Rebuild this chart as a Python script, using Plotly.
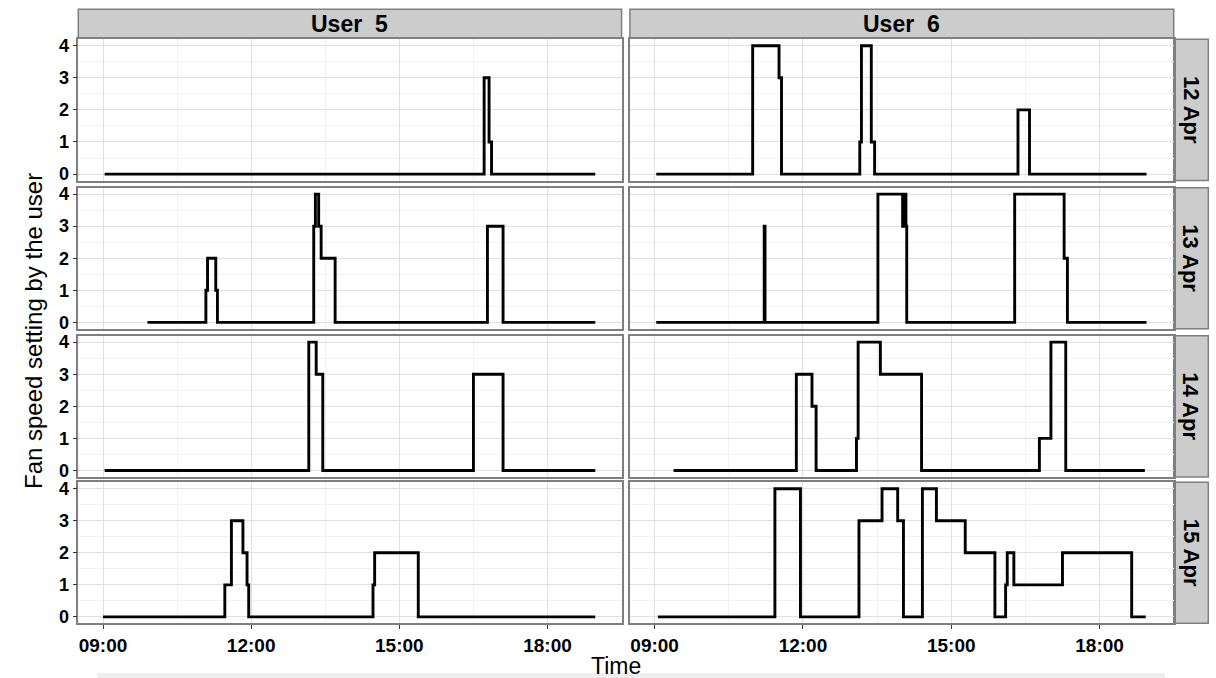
import plotly.graph_objects as go

# ---------------- data ----------------
BASE = "2014-01-01"
users = ["User  5", "User  6"]
days = ["12 Apr", "13 Apr", "14 Apr", "15 Apr"]
x_tick_labels = ["09:00", "12:00", "15:00", "18:00"]
x_minor = ["10:30", "13:30", "16:30"]
y_tick_vals = [0, 1, 2, 3, 4]
y_tick_labels = ["0", "1", "2", "3", "4"]

# User 5
u5_12_t = ["09:02", "16:43", "16:49", "16:52", "18:58"]
u5_12_v = [0, 3, 1, 0, 0]
u5_13_t = ["09:54", "11:05", "11:07", "11:17", "11:19", "13:16", "13:18", "13:22", "13:25", "13:42", "16:47", "17:06", "18:58"]
u5_13_v = [0, 1, 2, 1, 0, 3, 4, 3, 2, 0, 3, 0, 0]
u5_14_t = ["09:02", "13:10", "13:19", "13:27", "16:30", "17:06", "18:58"]
u5_14_v = [0, 4, 3, 0, 3, 0, 0]
u5_15_t = ["09:00", "11:28", "11:36", "11:50", "11:55", "11:57", "14:28", "14:30", "15:23", "18:58"]
u5_15_v = [0, 1, 3, 2, 1, 0, 1, 2, 0, 0]

# User 6
u6_12_t = ["09:02", "10:59", "11:31", "11:34", "13:09", "13:11", "13:23", "13:27", "16:21", "16:35", "18:57"]
u6_12_v = [0, 4, 3, 0, 1, 4, 1, 0, 2, 0, 0]
u6_13_t = ["09:02", "11:13", "11:14", "13:31", "14:01", "14:02", "14:03", "14:04", "14:05", "14:06", "16:17", "17:17", "17:21", "18:57"]
u6_13_v = [0, 3, 0, 4, 3, 4, 3, 4, 3, 0, 4, 2, 0, 0]
u6_14_t = ["09:23", "11:52", "12:11", "12:16", "13:05", "13:07", "13:34", "14:24", "16:47", "17:01", "17:19", "18:55"]
u6_14_v = [0, 3, 2, 0, 1, 4, 3, 0, 1, 4, 0, 0]
u6_15_t = ["09:04", "11:26", "11:57", "13:08", "13:36", "13:55", "14:02", "14:25", "14:42", "15:17", "15:53", "16:06", "16:08", "16:16", "17:15", "18:39", "18:56"]
u6_15_v = [0, 4, 0, 3, 4, 3, 0, 4, 3, 2, 0, 1, 2, 1, 2, 0, 0]

series = [
    [(u5_12_t, u5_12_v), (u6_12_t, u6_12_v)],
    [(u5_13_t, u5_13_v), (u6_13_t, u6_13_v)],
    [(u5_14_t, u5_14_v), (u6_14_t, u6_14_v)],
    [(u5_15_t, u5_15_v), (u6_15_t, u6_15_v)],
]

# ---------------- layout geometry (pixels) ----------------
W, H = 1216, 678
col_x = [(78.3, 621.6), (629.9, 1173.7)]
row_y = [(39.3, 180.5), (187.7, 328.8), (335.7, 476.9), (482.3, 623.3)]
strip_top = (9.3, 38.3)
strip_right = (1173.7, 1208.3)

def fx(x):
    return x / W

def fy(y):
    return 1 - y / H

def ts(t):
    return f"{BASE} {t}"

FONT = "Liberation Sans, Arial, sans-serif"
xtickfont = dict(family=FONT, size=19, color="black", weight="bold")
ytickfont = dict(family=FONT, size=18, color="black", weight="bold")

fig = go.Figure()
layout = dict(
    width=W, height=H, margin=dict(l=0, r=0, t=0, b=0),
    paper_bgcolor="white", plot_bgcolor="white", showlegend=False,
    shapes=[], annotations=[],
)

for r in range(4):
    for c in range(2):
        idx = r * 2 + c + 1
        sfx = "" if idx == 1 else str(idx)
        t, v = series[r][c]
        fig.add_trace(go.Scatter(
            x=[ts(s) for s in t], y=v, mode="lines",
            line=dict(color="black", width=2.9, shape="hv"),
            xaxis="x" + sfx, yaxis="y" + sfx, hoverinfo="skip",
        ))
        bottom = r == 3
        left = c == 0
        layout["xaxis" + sfx] = dict(
            domain=[fx(col_x[c][0]), fx(col_x[c][1])],
            anchor="y" + sfx, type="date",
            range=[ts("08:30"), ts("19:30")],
            tickmode="array", tickvals=[ts(s) for s in x_tick_labels], ticktext=x_tick_labels,
            showticklabels=bottom, ticks="outside" if bottom else "",
            ticklen=4, tickwidth=1.2, tickcolor="#333333", tickfont=xtickfont,
            showgrid=True, gridcolor="#E0E0E0", gridwidth=1.4,
            minor=dict(tickmode="array", tickvals=[ts(s) for s in x_minor], showgrid=True,
                       gridcolor="#F2F2F2", gridwidth=1, ticks=""),
            showline=True, mirror=True, linecolor="#7F7F7F", linewidth=1.5,
            zeroline=False, automargin=False, fixedrange=True,
        )
        layout["yaxis" + sfx] = dict(
            domain=[fy(row_y[r][1]), fy(row_y[r][0])],
            anchor="x" + sfx, range=[-0.2, 4.2],
            tickmode="array", tickvals=y_tick_vals, ticktext=y_tick_labels,
            showticklabels=left, ticks="outside" if left else "",
            ticklen=4, tickwidth=1.2, tickcolor="#333333", tickfont=ytickfont,
            showgrid=True, gridcolor="#E0E0E0", gridwidth=1.4,
            minor=dict(tickmode="array", tickvals=[0.5, 1.5, 2.5, 3.5], showgrid=True,
                       gridcolor="#F2F2F2", gridwidth=1, ticks=""),
            showline=True, mirror=True, linecolor="#7F7F7F", linewidth=1.5,
            zeroline=False, automargin=False, fixedrange=True,
        )

# top strips
for c in range(2):
    layout["shapes"].append(dict(
        type="rect", xref="paper", yref="paper",
        x0=fx(col_x[c][0]), x1=fx(col_x[c][1]), y0=fy(strip_top[1]), y1=fy(strip_top[0]),
        fillcolor="#CCCCCC", line=dict(color="#7F7F7F", width=1.5), layer="below",
    ))
    layout["annotations"].append(dict(
        text=users[c], xref="paper", yref="paper",
        x=fx((col_x[c][0] + col_x[c][1]) / 2), y=fy((strip_top[0] + strip_top[1]) / 2),
        showarrow=False, xanchor="center", yanchor="middle",
        font=dict(family=FONT, size=23, color="black", weight="bold"),
    ))

# right strips
for r in range(4):
    layout["shapes"].append(dict(
        type="rect", xref="paper", yref="paper",
        x0=fx(strip_right[0]), x1=fx(strip_right[1]), y0=fy(row_y[r][1]), y1=fy(row_y[r][0]),
        fillcolor="#CCCCCC", line=dict(color="#7F7F7F", width=1.5), layer="below",
    ))
    layout["annotations"].append(dict(
        text=days[r], xref="paper", yref="paper", textangle=90,
        x=fx((strip_right[0] + strip_right[1]) / 2), y=fy((row_y[r][0] + row_y[r][1]) / 2),
        showarrow=False, xanchor="center", yanchor="middle",
        font=dict(family=FONT, size=22, color="black", weight="bold"),
    ))

# axis titles
layout["annotations"].append(dict(
    text="Time", xref="paper", yref="paper", x=fx(616), y=fy(666),
    showarrow=False, xanchor="center", yanchor="middle", borderpad=0,
    font=dict(family=FONT, size=23, color="black"),
))
layout["annotations"].append(dict(
    text="Fan speed setting by the user", xref="paper", yref="paper", textangle=-90,
    x=fx(33), y=fy(331), showarrow=False, xanchor="center", yanchor="middle",
    font=dict(family=FONT, size=24, color="black"),
))

# faint bottom band
layout["shapes"].append(dict(
    type="rect", xref="paper", yref="paper",
    x0=fx(97), x1=fx(1165), y0=0, y1=fy(673),
    fillcolor="#EEEEEE", line=dict(width=0), layer="below",
))

fig.update_layout(**layout)
fig.write_html("out.html", config=dict(displayModeBar=False))
